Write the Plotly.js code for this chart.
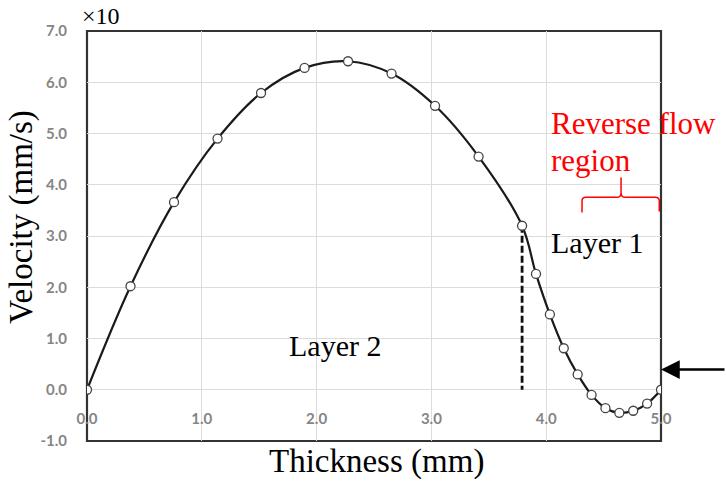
<!DOCTYPE html>
<html>
<head>
<meta charset="utf-8">
<script src="https://cdn.plot.ly/plotly-3.0.1.min.js"></script>
<style>
  html, body { margin: 0; padding: 0; background: #ffffff; }
  #chart { width: 726px; height: 482px; }
</style>
</head>
<body>
<div id="chart"></div>
<script>
// Velocity profile across the film thickness (values are ×10 mm/s)
const thickness = [0, 0.379, 0.758, 1.137, 1.516, 1.895, 2.274, 2.653, 3.032, 3.411, 3.790,
                   3.911, 4.032, 4.153, 4.274, 4.395, 4.516, 4.637, 4.758, 4.879, 5.000];
const velocity  = [0, 2.02, 3.66, 4.90, 5.79, 6.28, 6.41, 6.17, 5.54, 4.55, 3.20,
                   2.26, 1.47, 0.81, 0.30, -0.10, -0.36, -0.45, -0.41, -0.27, 0];

// Index of the point where layer 2 meets layer 1
const interfaceIndex = 10;

const xTickVals = [0, 1, 2, 3, 4, 5];
const xTickText = ['0.0', '1.0', '2.0', '3.0', '4.0', '5.0'];
const yTickVals = [-1, 0, 1, 2, 3, 4, 5, 6, 7];
const yTickText = ['-1.0', '0.0', '1.0', '2.0', '3.0', '4.0', '5.0', '6.0', '7.0'];

const serif = '"Liberation Serif", "Times New Roman", serif';
const tickFont = { family: 'Lato, "Open Sans", sans-serif', size: 15, color: '#858585', weight: 'bold' };

const traces = [
  {
    // Dashed marker of the layer interface
    x: [thickness[interfaceIndex], thickness[interfaceIndex]],
    y: [velocity[interfaceIndex], 0],
    mode: 'lines',
    line: { color: '#111111', width: 2.8, dash: '7px,3px' },
    hoverinfo: 'skip'
  },
  {
    x: thickness,
    y: velocity,
    mode: 'lines+markers',
    line: { color: '#1a1a1a', width: 2.2, shape: 'spline', smoothing: 1 },
    marker: { symbol: 'circle', size: 9, color: '#ffffff', line: { color: '#444444', width: 1.3 } },
    hoverinfo: 'skip'
  }
];

const layout = {
  width: 726,
  height: 482,
  margin: { l: 87, r: 65, t: 31, b: 41 },
  paper_bgcolor: '#ffffff',
  plot_bgcolor: '#ffffff',
  showlegend: false,
  xaxis: {
    range: [0, 5],
    anchor: 'free',
    position: 0.125,
    tickvals: xTickVals,
    ticktext: xTickText,
    tickfont: tickFont,
    ticks: '',
    ticklabelstandoff: 18,
    showline: false,
    showgrid: true,
    gridcolor: '#dcdcdc',
    gridwidth: 1,
    zeroline: false,
    fixedrange: true
  },
  yaxis: {
    range: [-1, 7],
    tickvals: yTickVals,
    ticktext: yTickText,
    tickfont: tickFont,
    ticks: '',
    ticklabelstandoff: 19,
    showline: false,
    showgrid: true,
    gridcolor: '#dcdcdc',
    gridwidth: 1,
    zeroline: false,
    fixedrange: true
  },
  shapes: [
    {
      // Plot frame
      type: 'rect', xref: 'paper', yref: 'paper',
      x0: 0, x1: 1, y0: 0, y1: 1,
      line: { color: '#333333', width: 2.2 },
      layer: 'between'
    },
    {
      // Curly bracket over the reverse flow region
      type: 'path', xref: 'x', yref: 'y',
      path: 'M 4.312,3.46 L 4.312,3.68 Q 4.312,3.755 4.345,3.755 L 4.615,3.755 ' +
            'Q 4.652,3.755 4.652,3.84 L 4.652,4.14 L 4.652,3.84 Q 4.652,3.755 4.69,3.755 ' +
            'L 4.95,3.755 Q 4.985,3.755 4.985,3.68 L 4.985,3.48',
      line: { color: '#ff0000', width: 1.5 },
      layer: 'above'
    }
  ],
  annotations: [
    {
      text: 'Velocity (mm/s)', textangle: -90,
      xref: 'paper', yref: 'paper', x: -0.1132, y: 0.547,
      xanchor: 'center', yanchor: 'middle', showarrow: false,
      font: { family: serif, size: 33, color: '#000000' }
    },
    {
      text: 'Thickness (mm)',
      xref: 'paper', yref: 'paper', x: 0.505, y: -0.051,
      xanchor: 'center', yanchor: 'middle', showarrow: false,
      font: { family: serif, size: 33, color: '#000000' }
    },
    {
      text: '×10',
      xref: 'paper', yref: 'paper', x: 0.0244, y: 1.036,
      xanchor: 'center', yanchor: 'middle', showarrow: false,
      font: { family: serif, size: 24, color: '#000000' }
    },
    {
      text: 'Layer 2',
      xref: 'x', yref: 'y', x: 2.163, y: 0.86,
      xanchor: 'center', yanchor: 'middle', showarrow: false,
      font: { family: serif, size: 30, color: '#000000' }
    },
    {
      text: 'Layer 1',
      xref: 'x', yref: 'y', x: 4.445, y: 2.88,
      xanchor: 'center', yanchor: 'middle', showarrow: false,
      font: { family: serif, size: 30, color: '#000000' }
    },
    {
      text: 'Reverse flow',
      xref: 'x', yref: 'y', x: 4.02, y: 5.19,
      xanchor: 'left', yanchor: 'middle', align: 'left', showarrow: false,
      font: { family: serif, size: 31, color: '#ff0000' }
    },
    {
      text: 'region',
      xref: 'x', yref: 'y', x: 4.02, y: 4.48,
      xanchor: 'left', yanchor: 'middle', align: 'left', showarrow: false,
      font: { family: serif, size: 31, color: '#ff0000' }
    },
    {
      // Arrow pointing at the wall velocity
      text: '',
      xref: 'x', yref: 'y', x: 5.0, y: 0.395,
      ax: 65, ay: 0,
      showarrow: true, arrowhead: 2, arrowsize: 1.5, arrowwidth: 2.5,
      arrowcolor: '#000000', standoff: 0
    }
  ]
};

Plotly.newPlot('chart', traces, layout, { staticPlot: true, displayModeBar: false });
</script>
</body>
</html>
